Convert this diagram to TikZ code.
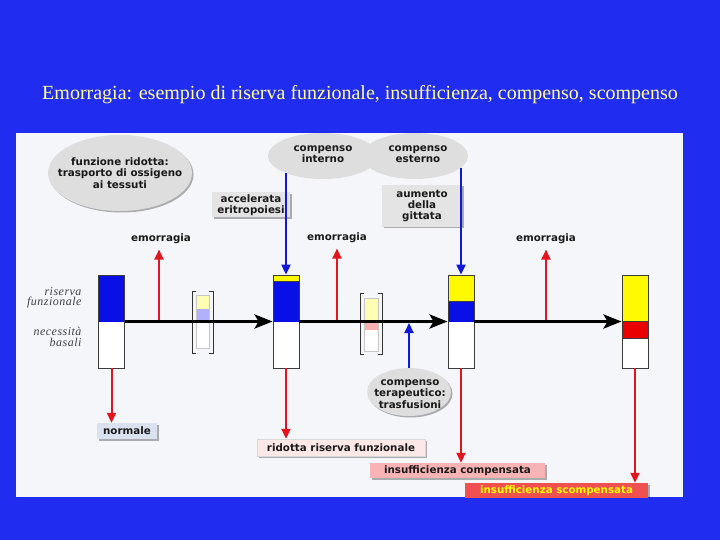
\documentclass[tikz,border=0pt]{standalone}
\usepackage{fontspec}
\setmainfont{Liberation Serif}
\newfontfamily\labfont{DejaVu Sans}
\newfontfamily\sidefont[LetterSpace=4]{Liberation Serif}
\usetikzlibrary{shapes.geometric,arrows.meta,shadows}
\definecolor{bgblue}{RGB}{32,44,240}
\definecolor{panel}{RGB}{244,246,250}
\definecolor{barblue}{RGB}{8,16,230}
\definecolor{baryellow}{RGB}{255,250,0}
\definecolor{barred}{RGB}{235,0,0}
\definecolor{barline}{RGB}{60,60,60}
\definecolor{arrred}{RGB}{228,20,30}
\definecolor{arrblue}{RGB}{15,25,215}
\definecolor{ellgray}{RGB}{222,222,222}
\definecolor{boxgray}{RGB}{228,228,228}
\definecolor{normfill}{RGB}{218,226,240}
\definecolor{ridfill}{RGB}{253,232,232}
\definecolor{compfill}{RGB}{248,180,180}
\definecolor{scompfill}{RGB}{240,80,80}
\definecolor{scomptext}{RGB}{255,255,0}
\definecolor{titlecol}{RGB}{255,255,150}
\definecolor{palyellow}{RGB}{255,255,180}
\definecolor{palblue}{RGB}{176,176,255}
\definecolor{palpink}{RGB}{248,176,176}
\begin{document}
\begin{tikzpicture}[x=1bp,y=-1bp,
  lab/.style={font=\labfont\bfseries\fontsize{10.3bp}{11.2bp}\selectfont, align=center, text=black!90},
  shad/.style={drop shadow={shadow xshift=1.5bp,shadow yshift=-1.5bp,opacity=0.3,fill=black}},
  ell/.style={ellipse, fill=ellgray, inner sep=0pt},
  box/.style={rectangle, inner sep=0pt, lab, shad},
  bar/.style={rectangle, draw=barline, line width=0.8bp, minimum width=26bp, minimum height=93bp, inner sep=0pt, fill=white},
  minibar/.style={rectangle, draw=gray!45, line width=0.6bp, minimum height=53bp, inner sep=0pt, fill=white},
  redarr/.style={draw=arrred, line width=2bp, -{Triangle[width=9bp,length=10bp]}},
  bluearr/.style={draw=arrblue, line width=2bp, -{Triangle[width=9bp,length=10bp]}},
  mainarr/.style={draw=black, line width=3.5bp, -{Stealth[length=18bp,width=14bp,inset=4bp]}},
  side/.style={font=\sidefont\itshape\fontsize{12bp}{10.5bp}\selectfont, align=right, anchor=east, text=black!75},
  bracket/.style={draw=black!80, line width=1bp}
]
\useasboundingbox (0,0) rectangle (720,540);
\fill[bgblue] (0,0) rectangle (720,540);
\node[font=\fontsize{20bp}{24bp}\selectfont, text=titlecol] (title) at (360,95) {Emorragia: esempio di riserva funzionale, insufficienza, compenso, scompenso};
\fill[panel] (16,133) rectangle (683,497);
\begin{scope}
\clip (16,133) rectangle (683,497);
% ellipses
\node[ell, shad, minimum width=144bp, minimum height=76bp] (fr) at (120,173) {};
\node[lab] (frt) at (fr) {funzione ridotta:\\trasporto di ossigeno\\ai tessuti};
\node[ell, minimum width=110bp, minimum height=46bp] (ci) at (323,156) {};
\node[ell, minimum width=106bp, minimum height=46bp] (ce) at (415,156) {};
\node[lab] (cit) at (323,154) {compenso\\interno};
\node[lab] (cet) at (418,154) {compenso\\esterno};
\node[ell, shad, minimum width=84bp, minimum height=48bp] (ct) at (409,392) {};
\node[lab] (ctt) at (410,394) {compenso\\terapeutico:\\trasfusioni};
% boxes
\node[box, fill=boxgray, minimum width=78bp, minimum height=25bp] (acc) at (251,205) {accelerata\\eritropoiesi};
\node[box, fill=boxgray, minimum width=80bp, minimum height=42bp] (aum) at (422,206) {aumento\\della\\gittata};
\node[box, fill=normfill, minimum width=60bp, minimum height=16bp] (norm) at (127,431) {normale};
\node[box, fill=ridfill, draw=black!15, minimum width=168bp, minimum height=17bp] (rid) at (341,447.5) {ridotta riserva funzionale};
\node[box, fill=compfill, minimum width=175bp, minimum height=15bp] (icomp) at (457.5,470.5) {insufficienza compensata};
\node[box, fill=scompfill, text=scomptext, minimum width=183bp, minimum height=15bp] (iscomp) at (556.5,490.5) {insufficienza scompensata};
% emorragia labels
\node[lab] (em1) at (161,239) {emorragia};
\node[lab] (em2) at (337,238) {emorragia};
\node[lab] (em3) at (546,239) {emorragia};
% side labels
\node[side] (rf) at (85,298) {riserva\\funzionale};
\node[side] (nb) at (85,337) {necessità\\basali};
% bars
\node[bar, path picture={
  \fill[barblue] (path picture bounding box.north west) rectangle (path picture bounding box.east);
}] (b1) at (111.5,321.5) {};
\node[bar, path picture={
  \fill[baryellow] (path picture bounding box.north west) rectangle ([yshift=-6bp]path picture bounding box.north east);
  \fill[barblue] ([yshift=-6bp]path picture bounding box.north west) rectangle (path picture bounding box.east);
  \draw[barline, line width=0.8bp] ([yshift=-6bp]path picture bounding box.north west) -- ([yshift=-6bp]path picture bounding box.north east);
}] (b2) at (286,321.5) {};
\node[bar, path picture={
  \fill[baryellow] (path picture bounding box.north west) rectangle ([yshift=-26bp]path picture bounding box.north east);
  \fill[barblue] ([yshift=-26bp]path picture bounding box.north west) rectangle (path picture bounding box.east);
  \draw[barline, line width=0.8bp] ([yshift=-26bp]path picture bounding box.north west) -- ([yshift=-26bp]path picture bounding box.north east);
}] (b3) at (461,321.5) {};
\node[bar, path picture={
  \fill[baryellow] (path picture bounding box.north west) rectangle (path picture bounding box.east);
  \fill[barred] (path picture bounding box.west) rectangle ([yshift=-16.5bp]path picture bounding box.east);
  \draw[barline, line width=0.8bp] (path picture bounding box.west) -- (path picture bounding box.east);
  \draw[barline, line width=0.8bp] ([yshift=-16.5bp]path picture bounding box.west) -- ([yshift=-16.5bp]path picture bounding box.east);
}] (b4) at (635,321.5) {};
% mini bars
\node[minibar, minimum width=13bp, path picture={
  \fill[palyellow] (path picture bounding box.north west) rectangle ([yshift=-14bp]path picture bounding box.north east);
  \fill[palblue] ([yshift=-14bp]path picture bounding box.north west) rectangle ([yshift=-26bp]path picture bounding box.north east);
}] (m1) at (202.5,321.5) {};
\node[minibar, minimum width=14bp, path picture={
  \fill[palyellow] (path picture bounding box.north west) rectangle ([yshift=-25bp]path picture bounding box.north east);
  \fill[palpink] ([yshift=-25bp]path picture bounding box.north west) rectangle ([yshift=-32bp]path picture bounding box.north east);
}] (m2) at (371,324.5) {};
% brackets
\draw[bracket] (196,291) -- (192,291) -- (192,353) -- (196,353);
\draw[bracket] (209,291) -- (213,291) -- (213,353) -- (209,353);
\draw[bracket] (364,293) -- (360,293) -- (360,354) -- (364,354);
\draw[bracket] (378,293) -- (382,293) -- (382,354) -- (378,354);
% emorragia arrows
\coordinate (e1) at (159,321.5);
\coordinate (e2) at (337,321.5);
\coordinate (e3) at (546,321.5);
\draw[redarr, shorten >=2bp] (e1) -- (e1 |- em1.south);
\draw[redarr, shorten >=2bp] (e2) -- (e2 |- em2.south);
\draw[redarr, shorten >=2bp] (e3) -- (e3 |- em3.south);
% main line
\draw[mainarr] (b1.east) -- (b2.west);
\draw[mainarr] (b2.east) -- (b3.west);
\draw[mainarr] (b3.east) -- (b4.west);
% down red arrows
\draw[redarr] (b1.south) -- (b1.south |- norm.north);
\draw[redarr] (b2.south) -- (b2.south |- rid.north);
\draw[redarr] (b3.south) -- (b3.south |- icomp.north);
\draw[redarr] (b4.south) -- (b4.south |- iscomp.north);
% blue arrows
\draw[bluearr] (b2.north |- ci.205) -- (b2.north);
\draw[bluearr] (b3.north |- ce.346) -- (b3.north);
\draw[bluearr, shorten >=1.5bp] (ct.north) -- (ct.north |- b3.west);
\end{scope}
\end{tikzpicture}
\end{document}
